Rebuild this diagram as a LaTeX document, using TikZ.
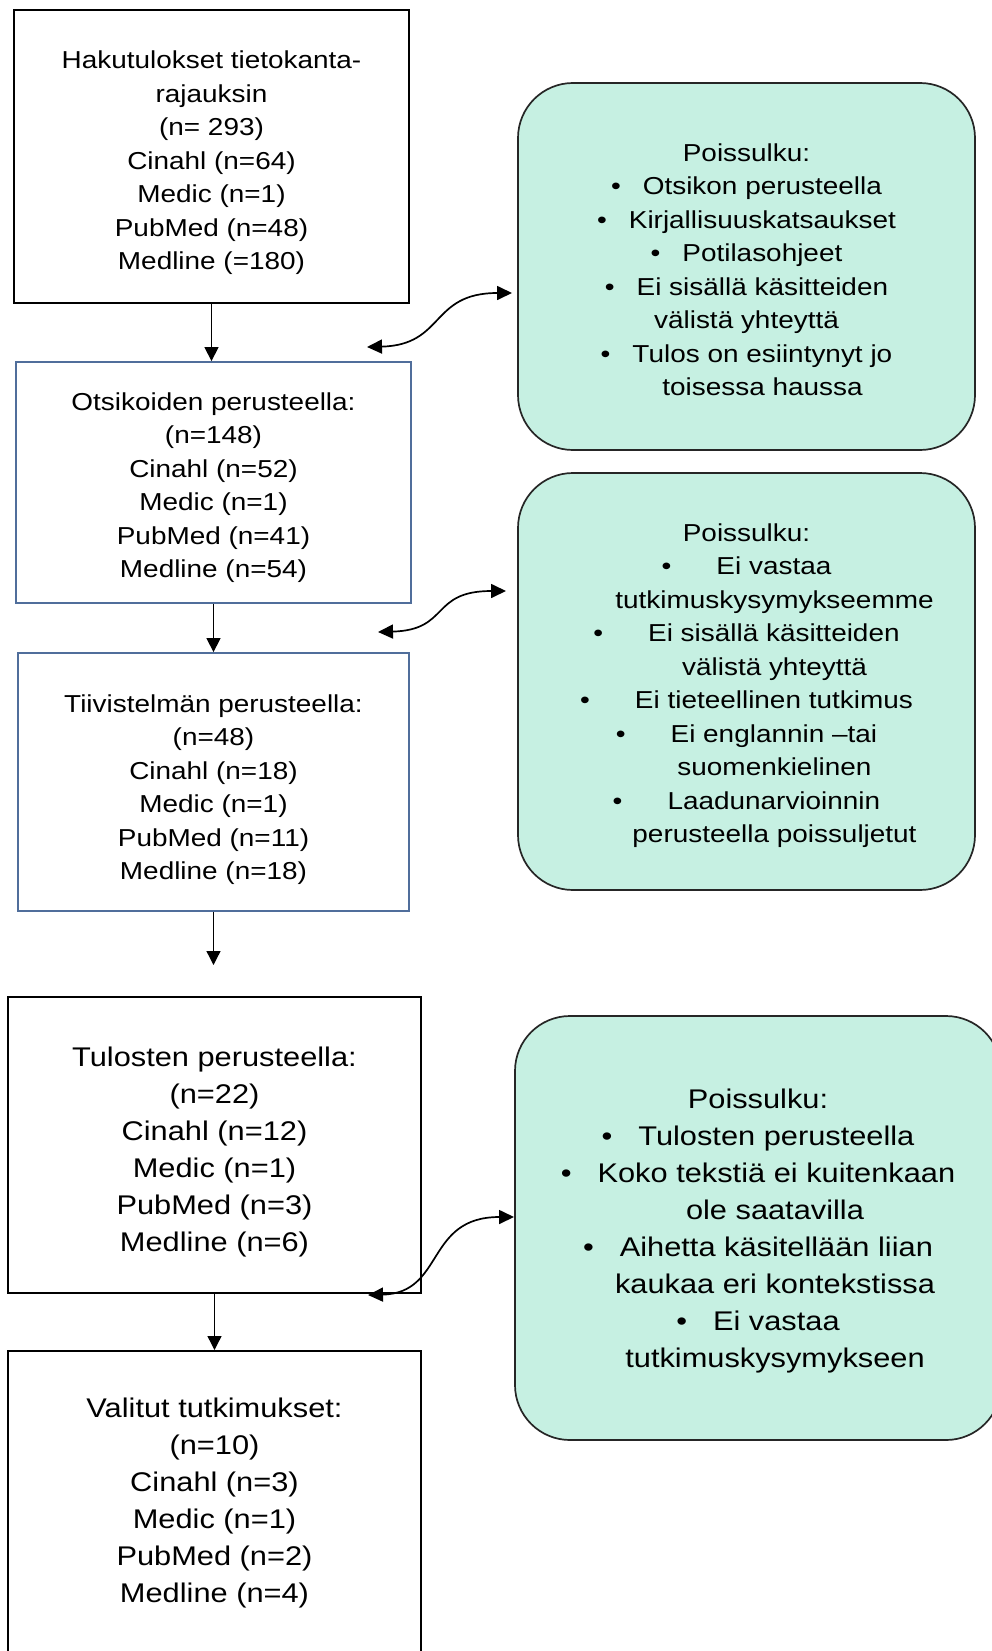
\documentclass[tikz,border=0pt]{standalone}
\usepackage{fontspec}
\setmainfont{Liberation Sans}[FakeStretch=1.14]
\usetikzlibrary{arrows.meta}
\definecolor{mint}{RGB}{198,240,226}
\definecolor{boxblue}{RGB}{80,110,155}
\newcommand\fsmall{\fontsize{24.5}{33.5}\selectfont}
\newcommand\flarge{\fontsize{27}{37}\selectfont}
\newcommand\topgap[1]{\rule{0pt}{#1}}
\tikzset{
  flowbox/.style={draw=black, line width=2pt, align=center, inner sep=0pt, fill=white},
  bluebox/.style={flowbox, draw=boxblue, line width=1.8pt},
  greenbox/.style={draw=black!85, line width=1.7pt, fill=mint, rounded corners=55pt, align=center, inner sep=0pt},
  downarrow/.style={line width=1.3pt, -{Triangle[length=14pt,width=14pt]}},
  curvearrow/.style={line width=1.7pt, {Triangle[length=15pt,width=14pt]}-{Triangle[length=15pt,width=14pt]}}
}
\begin{document}
\begin{tikzpicture}[x=1pt,y=-1pt]
\useasboundingbox (0,0) rectangle (991,1651);

% left column boxes
\node[flowbox, minimum width=395pt, minimum height=293pt, font=\fsmall] (b1) at (211.5,156.5)
  {\topgap{31pt}Hakutulokset tietokanta-\\rajauksin\\(n= 293)\\Cinahl (n=64)\\Medic (n=1)\\PubMed (n=48)\\Medline (=180)};
\node[bluebox, minimum width=395pt, minimum height=241pt, font=\fsmall] (b2) at (213.5,482.5)
  {\topgap{28pt}Otsikoiden perusteella:\\(n=148)\\Cinahl (n=52)\\Medic (n=1)\\PubMed (n=41)\\Medline (n=54)};
\node[bluebox, minimum width=391pt, minimum height=258pt, font=\fsmall] (b3) at (213.5,782)
  {\topgap{33pt}Tiivistelmän perusteella:\\(n=48)\\Cinahl (n=18)\\Medic (n=1)\\PubMed (n=11)\\Medline (n=18)};
\node[flowbox, minimum width=413pt, minimum height=296pt, font=\flarge] (b4) at (214.5,1145)
  {\topgap{34pt}Tulosten perusteella:\\(n=22)\\Cinahl (n=12)\\Medic (n=1)\\PubMed (n=3)\\Medline (n=6)};
\node[flowbox, minimum width=413pt, minimum height=304pt, font=\flarge] (b5) at (214.5,1503)
  {Valitut tutkimukset:\\(n=10)\\Cinahl (n=3)\\Medic (n=1)\\PubMed (n=2)\\Medline (n=4)};

% right column boxes
\node[greenbox, minimum width=457pt, minimum height=367pt, font=\fsmall] (g1) at (746.5,266.5)
  {\topgap{24pt}Poissulku:\\
   •\hspace{22pt}Otsikon perusteella\\
   •\hspace{22pt}Kirjallisuuskatsaukset\\
   •\hspace{22pt}Potilasohjeet\\
   •\hspace{22pt}Ei sisällä käsitteiden\\
   välistä yhteyttä\\
   •\hspace{22pt}Tulos on esiintynyt jo\\
   \hspace*{32pt}toisessa haussa};
\node[greenbox, minimum width=457pt, minimum height=417pt, font=\fsmall] (g2) at (746.5,681.5)
  {\topgap{26pt}Poissulku:\\
   •\hspace{45pt}Ei vastaa\\
   \hspace*{56pt}tutkimuskysymykseemme\\
   •\hspace{45pt}Ei sisällä käsitteiden\\
   \hspace*{56pt}välistä yhteyttä\\
   •\hspace{45pt}Ei tieteellinen tutkimus\\
   •\hspace{45pt}Ei englannin –tai\\
   \hspace*{56pt}suomenkielinen\\
   •\hspace{45pt}Laadunarvioinnin\\
   \hspace*{56pt}perusteella poissuljetut};
\node[greenbox, minimum width=486pt, minimum height=424pt, font=\flarge] (g3) at (758,1228)
  {\topgap{26pt}Poissulku:\\
   •\hspace{26pt}Tulosten perusteella\\
   •\hspace{26pt}Koko tekstiä ei kuitenkaan\\
   \hspace*{34pt}ole saatavilla\\
   •\hspace{26pt}Aihetta käsitellään liian\\
   \hspace*{34pt}kaukaa eri kontekstissa\\
   •\hspace{26pt}Ei vastaa\\
   \hspace*{34pt}tutkimuskysymykseen};

% straight arrows
\coordinate (c3) at (213.5,965);
\draw[downarrow] (b1.south) -- (b1.south |- b2.north);
\draw[downarrow] (b2.south) -- (b2.south |- b3.north);
\draw[downarrow] (b3.south) -- (c3);
\draw[downarrow] (b4.south) -- (b4.south |- b5.north);

% curved double arrows
\coordinate (a1l) at (367,347);
\coordinate (a1r) at (512,293);
\coordinate (a2l) at (378,632);
\coordinate (a2r) at (506,591);
\coordinate (a3l) at (368,1295);
\coordinate (a3r) at (514,1217);
\draw[curvearrow] (a1l) .. controls (445,345) and (430,293) .. (a1r);
\draw[curvearrow] (a2l) .. controls (450,630) and (430,591) .. (a2r);
\draw[curvearrow] (a3l) .. controls (445,1293) and (425,1217) .. (a3r);
\end{tikzpicture}
\end{document}
